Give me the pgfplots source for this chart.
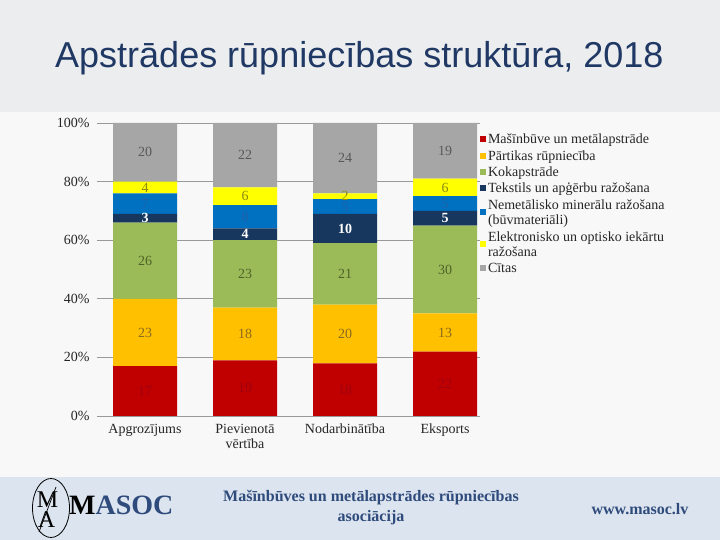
\documentclass[border=0pt]{standalone}
\usepackage{pgfplots}
\pgfplotsset{compat=1.18}
\usepackage{fontspec}
\setmainfont{Liberation Serif}
\newfontfamily\titlefont{Liberation Sans}
\definecolor{cRed}{HTML}{C00000}
\definecolor{cOrange}{HTML}{FFC000}
\definecolor{cGreen}{HTML}{9BBB59}
\definecolor{cNavy}{HTML}{17375E}
\definecolor{cBlue}{HTML}{0070C0}
\definecolor{cYellow}{HTML}{FFFF00}
\definecolor{cGray}{HTML}{A6A6A6}
\definecolor{lRed}{HTML}{A00010}
\definecolor{lOrange}{HTML}{8A6A1E}
\definecolor{lGreen}{HTML}{4F6228}
\definecolor{lBlue}{HTML}{2062A8}
\definecolor{lYellow}{HTML}{8A8A10}
\definecolor{lGray}{HTML}{595959}
\definecolor{bgTop}{HTML}{ECEDEF}
\definecolor{bgMid}{HTML}{F8F8F8}
\definecolor{bgFoot}{HTML}{DCE4EF}
\definecolor{titleC}{HTML}{1F3864}
\definecolor{footC}{HTML}{2F4B7C}
\begin{document}
\begin{tikzpicture}
\useasboundingbox (0pt,0pt) rectangle (720pt,540pt);
\fill[bgTop] (0pt,0pt) rectangle (720pt,540pt);
\fill[bgMid] (0pt,63pt) rectangle (720pt,428pt);
\fill[bgFoot] (0pt,0pt) rectangle (720pt,63pt);
\node[anchor=base west, font=\titlefont\fontsize{36}{40}\selectfont, text=titleC, inner sep=0pt] at (55pt,472pt) {Apstrādes rūpniecības struktūra, 2018};
% footer
\draw[black, line width=0.8pt] (51pt,32pt) ellipse [x radius=18.5pt, y radius=29.5pt];
\node[font=\fontsize{24}{24}\selectfont, inner sep=0pt] at (47.5pt,40pt) {M};
\node[font=\fontsize{24}{24}\selectfont, inner sep=0pt] at (46.5pt,20pt) {A};
\draw[black, line width=0.7pt] (56pt,53pt) -- (39pt,8pt);
\node[anchor=base west, font=\bfseries\fontsize{28}{28}\selectfont, inner sep=0pt] at (69pt,25pt) {M\textcolor{footC}{ASOC}};
\node[align=center, font=\bfseries\fontsize{16}{20}\selectfont, text=footC] at (371pt,32.5pt) {Mašīnbūves un metālapstrādes rūpniecības\\asociācija};
\node[font=\bfseries\fontsize{16}{20}\selectfont, text=footC] at (640pt,31pt) {www.masoc.lv};
\begin{axis}[
  at={(97pt,124pt)}, anchor=south west,
  scale only axis, width=383pt, height=293pt,
  ybar stacked, bar width=64pt,
  xmin=-0.48, xmax=3.35, ymin=0, ymax=100,
  xtick={0,1,2,3},
  xticklabels={\strut Apgrozījums, {\strut Pievienotā\\vērtība}, \strut Nodarbinātība, \strut Eksports},
  xticklabel style={align=center, font=\fontsize{14}{14.5}\selectfont, text=black!85, yshift=-4pt},
  ytick={0,20,40,60,80,100},
  yticklabel={\pgfmathprintnumber{\tick}\%},
  yticklabel style={font=\fontsize{14}{15}\selectfont, text=black!85, xshift=-4pt},
  /pgf/number format/assume math mode=true,
  ymajorgrids, grid style={draw=black!40, line width=0.9pt},
  axis line style={draw=none},
  major tick length=0pt, tick style={draw=none},
  legend style={at={(1,1)}, anchor=north west, yshift=-8pt, draw=none, fill=none,
    inner sep=0pt, outer sep=0pt, font=\fontsize{14}{15.5}\selectfont, text=black!85,
    cells={anchor=west, align=left, inner ysep=0.55pt, inner xsep=0.5pt},
    row sep=0pt, column sep=0pt},
  legend image code/.code={\path[#1,draw=none] (0pt,-3pt) rectangle (6pt,3pt);},
  nodes near coords,
  point meta=explicit,
  every node near coord/.append style={font=\fontsize{14}{15}\selectfont, anchor=center},
]
\addplot[fill=cRed, draw=none, nodes near coords style={text=lRed}]
  coordinates {(0,17) [17] (1,19) [19] (2,18) [18] (3,22) [22]};
\addlegendentry{\strut Mašīnbūve un metālapstrāde}
\addplot[fill=cOrange, draw=none, nodes near coords style={text=lOrange}]
  coordinates {(0,23) [23] (1,18) [18] (2,20) [20] (3,13) [13]};
\addlegendentry{\strut Pārtikas rūpniecība}
\addplot[fill=cGreen, draw=none, nodes near coords style={text=lGreen}]
  coordinates {(0,26) [26] (1,23) [23] (2,21) [21] (3,30) [30]};
\addlegendentry{\strut Kokapstrāde}
\addplot[fill=cNavy, draw=none, nodes near coords style={text=white, font=\bfseries\fontsize{14}{15}\selectfont}]
  coordinates {(0,3) [3] (1,4) [4] (2,10) [10] (3,5) [5]};
\addlegendentry{\strut Tekstils un apģērbu ražošana}
\addplot[fill=cBlue, draw=none, nodes near coords style={text=lBlue}]
  coordinates {(0,7) [7] (1,8) [8] (2,5) [5] (3,5) [5]};
\addlegendentry{\strut Nemetālisko minerālu ražošana\\(būvmateriāli)\strut}
\addplot[fill=cYellow, draw=none, nodes near coords style={text=lYellow}]
  coordinates {(0,4) [4] (1,6) [6] (2,2) [2] (3,6) [6]};
\addlegendentry{\strut Elektronisko un optisko iekārtu\\ražošana\strut}
\addplot[fill=cGray, draw=none, nodes near coords style={text=lGray}]
  coordinates {(0,20) [20] (1,22) [22] (2,24) [24] (3,19) [19]};
\addlegendentry{\strut Cītas}
\end{axis}
\end{tikzpicture}
\end{document}
